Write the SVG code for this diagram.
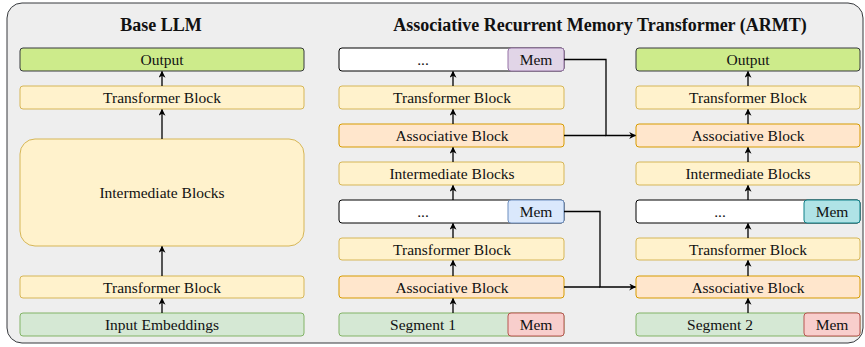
<svg xmlns="http://www.w3.org/2000/svg" width="865" height="347" viewBox="0 0 865 347">
<defs>
<marker id="ah" viewBox="0 0 10 10" refX="9" refY="5" markerWidth="7" markerHeight="7" markerUnits="userSpaceOnUse" orient="auto">
<path d="M0,0 L10,5 L0,10 L3,5 Z" fill="#000"/>
</marker>
<style>
text{font-family:"Liberation Serif","Times New Roman",serif;font-size:15.5px;fill:#111;text-anchor:middle;dominant-baseline:central}
.title{font-size:18px;font-weight:bold}
.out{fill:#cdeb8b;stroke:#36393d}
.tb{fill:#fff2cc;stroke:#d6b656}
.ab{fill:#ffe6cc;stroke:#d79b00}
.in{fill:#d5e8d4;stroke:#82b366}
.wh{fill:#ffffff;stroke:#000}
.mp{fill:#e1d5e7;stroke:#9673a6}
.mb{fill:#dae8fc;stroke:#6c8ebf}
.mr{fill:#f8cecc;stroke:#b85450}
.mc{fill:#b0e3e6;stroke:#0e8088}
rect{stroke-width:1}
.c{fill:none;stroke:#000;stroke-width:1.3;marker-end:url(#ah)}
.l{fill:none;stroke:#000;stroke-width:1.3}
</style>
</defs>
<rect x="7" y="3" width="856" height="340" rx="15" fill="#eeeeee" stroke="#36393d"/>
<text class="title" x="161" y="25">Base LLM</text>
<text class="title" x="600" y="25">Associative Recurrent Memory Transformer (ARMT)</text>

<g id="base-output"><rect class="out" x="20" y="48" width="284" height="23" rx="3"/><text x="162" y="59.5">Output</text></g>
<g id="base-tb2"><rect class="tb" x="20" y="86" width="284" height="23" rx="3"/><text x="162" y="97.5">Transformer Block</text></g>
<g id="base-inter"><rect class="tb" x="20" y="139" width="284" height="107" rx="15"/><text x="162" y="192.5">Intermediate Blocks</text></g>
<g id="base-tb1"><rect class="tb" x="20" y="276" width="284" height="22" rx="3"/><text x="162" y="287">Transformer Block</text></g>
<g id="base-input"><rect class="in" x="20" y="313" width="284" height="23" rx="3"/><text x="162" y="324.5">Input Embeddings</text></g>

<g id="s1-dots"><rect class="wh" x="339" y="48" width="225" height="23" rx="3"/><rect class="mp" x="508" y="48" width="56" height="23" rx="3"/><text x="423" y="59.5">...</text><text x="536" y="59.5">Mem</text></g>
<g id="s1-tb2"><rect class="tb" x="339" y="86" width="225" height="23" rx="3"/><text x="452" y="97.5">Transformer Block</text></g>
<g id="s1-ab2"><rect class="ab" x="339" y="124" width="225" height="23" rx="3"/><text x="452" y="135.5">Associative Block</text></g>
<g id="s1-inter"><rect class="tb" x="339" y="162" width="225" height="23" rx="3"/><text x="452" y="173.5">Intermediate Blocks</text></g>
<g id="s1-mid"><rect class="wh" x="339" y="200" width="225" height="23" rx="3"/><rect class="mb" x="508" y="200" width="56" height="23" rx="3"/><text x="423" y="211.5">...</text><text x="536" y="211.5">Mem</text></g>
<g id="s1-tb1"><rect class="tb" x="339" y="238" width="225" height="22" rx="3"/><text x="452" y="249">Transformer Block</text></g>
<g id="s1-ab1"><rect class="ab" x="339" y="276" width="225" height="22" rx="3"/><text x="452" y="287">Associative Block</text></g>
<g id="s1-seg"><rect class="in" x="339" y="313" width="225" height="23" rx="3"/><rect class="mr" x="508" y="313" width="56" height="23" rx="3"/><text x="423" y="324.5">Segment 1</text><text x="536" y="324.5">Mem</text></g>

<g id="s2-output"><rect class="out" x="636" y="48" width="224" height="23" rx="3"/><text x="748" y="59.5">Output</text></g>
<g id="s2-tb2"><rect class="tb" x="636" y="86" width="224" height="23" rx="3"/><text x="748" y="97.5">Transformer Block</text></g>
<g id="s2-ab2"><rect class="ab" x="636" y="124" width="224" height="23" rx="3"/><text x="748" y="135.5">Associative Block</text></g>
<g id="s2-inter"><rect class="tb" x="636" y="162" width="224" height="23" rx="3"/><text x="748" y="173.5">Intermediate Blocks</text></g>
<g id="s2-mid"><rect class="wh" x="636" y="200" width="224" height="23" rx="3"/><rect class="mc" x="804" y="200" width="56" height="23" rx="3"/><text x="720" y="211.5">...</text><text x="832" y="211.5">Mem</text></g>
<g id="s2-tb1"><rect class="tb" x="636" y="238" width="224" height="22" rx="3"/><text x="748" y="249">Transformer Block</text></g>
<g id="s2-ab1"><rect class="ab" x="636" y="276" width="224" height="22" rx="3"/><text x="748" y="287">Associative Block</text></g>
<g id="s2-seg"><rect class="in" x="636" y="313" width="224" height="23" rx="3"/><rect class="mr" x="804" y="313" width="56" height="23" rx="3"/><text x="720" y="324.5">Segment 2</text><text x="832" y="324.5">Mem</text></g>

<g id="connectors">
<path class="c" d="M162,313 V298.5"/>
<path class="c" d="M162,276 V246.5"/>
<path class="c" d="M162,139 V109.5"/>
<path class="c" d="M162,86 V71.5"/>

<path class="c" d="M453,313 V298.5"/>
<path class="c" d="M453,276 V260.5"/>
<path class="c" d="M453,238 V223.5"/>
<path class="c" d="M453,200 V185.5"/>
<path class="c" d="M453,162 V147.5"/>
<path class="c" d="M453,124 V109.5"/>
<path class="c" d="M453,86 V71.5"/>

<path class="c" d="M748,313 V298.5"/>
<path class="c" d="M748,276 V260.5"/>
<path class="c" d="M748,238 V223.5"/>
<path class="c" d="M748,200 V185.5"/>
<path class="c" d="M748,162 V147.5"/>
<path class="c" d="M748,124 V109.5"/>
<path class="c" d="M748,86 V71.5"/>

<path class="c" d="M564,59.5 H606 V135.5 H635.5"/>
<path class="l" d="M564,135.5 H606"/>
<path class="c" d="M564,211.5 H600 V287 H635.5"/>
<path class="l" d="M564,287 H600"/>
</g>
</svg>
